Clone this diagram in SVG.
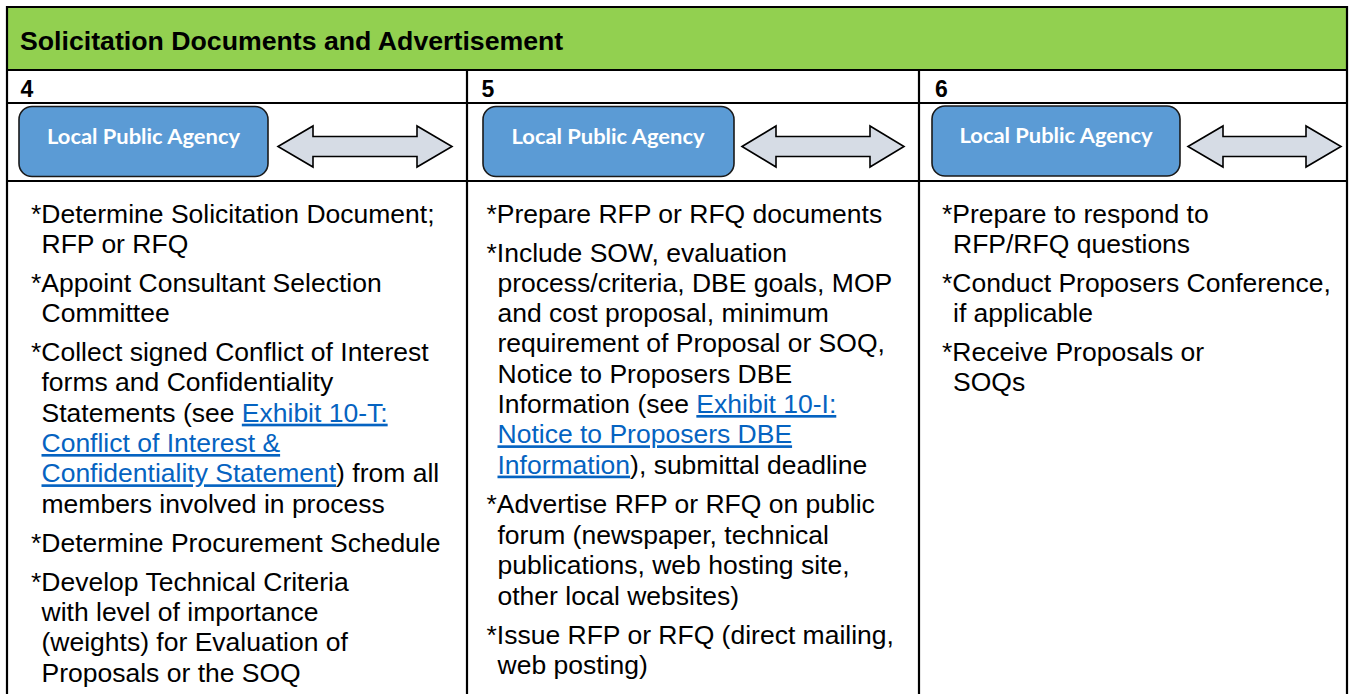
<svg xmlns="http://www.w3.org/2000/svg" width="1351" height="694" viewBox="0 0 1351 694">
<style>
.grid{stroke:#000;stroke-width:2.2;fill:none}
.hdr{font-family:"Liberation Sans",Arial,sans-serif;font-weight:bold;font-size:26.7px;fill:#000}
.num{font-family:"Liberation Sans",Arial,sans-serif;font-weight:bold;font-size:23px;fill:#000}
.box{fill:#5B9BD5;stroke:#1a1a1a;stroke-width:1.6}
.boxt{font-family:Lato,"Open Sans",sans-serif;font-weight:bold;font-size:21px;fill:#fff;text-anchor:middle}
.arr{fill:#D6DCE5;stroke:#000;stroke-width:1.6;stroke-linejoin:miter}
.body{font-family:"Liberation Sans",Arial,sans-serif;font-size:26.5px;fill:#000}
.link{fill:#0563C1;text-decoration:underline}
</style>
<rect x="0" y="0" width="1351" height="694" fill="#fff"/>
<g id="table">
<rect x="7" y="7" width="1340" height="63" fill="#92D050"/>
<path class="grid" d="M7 694V7H1347V694M7 70H1347M7 103H1347M7 181H1347M467 70V694M919 70V694"/>
<text class="hdr" x="20" y="49.5">Solicitation Documents and Advertisement</text>
<text class="num" x="20.5" y="97">4</text>
<text class="num" x="481.5" y="97">5</text>
<text class="num" x="935" y="97">6</text>
</g>
<g id="node-lpa-4">
<rect class="box" x="19" y="106.5" width="249" height="70" rx="13"/>
<text class="boxt" x="143.5" y="143.5" textLength="193" lengthAdjust="spacingAndGlyphs">Local Public Agency</text>
</g>
<g id="node-lpa-5">
<rect class="box" x="483" y="106.5" width="251" height="70" rx="13"/>
<text class="boxt" x="608" y="143.5" textLength="193" lengthAdjust="spacingAndGlyphs">Local Public Agency</text>
</g>
<g id="node-lpa-6">
<rect class="box" x="932" y="106" width="248" height="70" rx="13"/>
<text class="boxt" x="1056" y="142.5" textLength="193" lengthAdjust="spacingAndGlyphs">Local Public Agency</text>
</g>
<g id="connectors">
<polygon class="arr" points="278,146.5 313,126 313,136.5 417,136.5 417,126 452,146.5 417,167 417,156.5 313,156.5 313,167"/>
<polygon class="arr" points="742,146.5 776,126 776,136.5 870,136.5 870,126 904,146.5 870,167 870,156.5 776,156.5 776,167"/>
<polygon class="arr" points="1188,146.5 1223,126 1223,136.5 1306,136.5 1306,126 1341,146.5 1306,167 1306,156.5 1223,156.5 1223,167"/>
</g>
<g id="text-col4" class="body">
<text x="31" y="222.5">*Determine Solicitation Document;</text>
<text x="41.5" y="252.8">RFP or RFQ</text>
<text x="31" y="291.8">*Appoint Consultant Selection</text>
<text x="41.5" y="322.1">Committee</text>
<text x="31" y="361.1">*Collect signed Conflict of Interest</text>
<text x="41.5" y="391.4">forms and Confidentiality</text>
<text x="41.5" y="421.7">Statements (see <tspan class="link">Exhibit 10-T:</tspan></text>
<text x="41.5" y="452"><tspan class="link">Conflict of Interest &amp;</tspan></text>
<text x="41.5" y="482.3"><tspan class="link">Confidentiality Statement</tspan>) from all</text>
<text x="41.5" y="512.6">members involved in process</text>
<text x="31" y="551.6">*Determine Procurement Schedule</text>
<text x="31" y="590.6">*Develop Technical Criteria</text>
<text x="41.5" y="620.9">with level of importance</text>
<text x="41.5" y="651.2">(weights) for Evaluation of</text>
<text x="41.5" y="681.5">Proposals or the SOQ</text>
</g>
<g id="text-col5" class="body">
<text x="486.5" y="222.5">*Prepare RFP or RFQ documents</text>
<text x="486.5" y="261.5">*Include SOW, evaluation</text>
<text x="497.5" y="291.8">process/criteria, DBE goals, MOP</text>
<text x="497.5" y="322.1">and cost proposal, minimum</text>
<text x="497.5" y="352.4">requirement of Proposal or SOQ,</text>
<text x="497.5" y="382.7">Notice to Proposers DBE</text>
<text x="497.5" y="413">Information (see <tspan class="link">Exhibit 10-I:</tspan></text>
<text x="497.5" y="443.3"><tspan class="link">Notice to Proposers DBE</tspan></text>
<text x="497.5" y="473.6"><tspan class="link">Information</tspan>), submittal deadline</text>
<text x="486.5" y="513">*Advertise RFP or RFQ on public</text>
<text x="497.5" y="543.5">forum (newspaper, technical</text>
<text x="497.5" y="574">publications, web hosting site,</text>
<text x="497.5" y="604.5">other local websites)</text>
<text x="486.5" y="643.5">*Issue RFP or RFQ (direct mailing,</text>
<text x="497.5" y="674">web posting)</text>
</g>
<g id="text-col6" class="body">
<text x="942" y="222.5">*Prepare to respond to</text>
<text x="953" y="252.8">RFP/RFQ questions</text>
<text x="942" y="291.8">*Conduct Proposers Conference,</text>
<text x="953" y="322.1">if applicable</text>
<text x="942" y="361.1">*Receive Proposals or</text>
<text x="953" y="391.4">SOQs</text>
</g>
</svg>
